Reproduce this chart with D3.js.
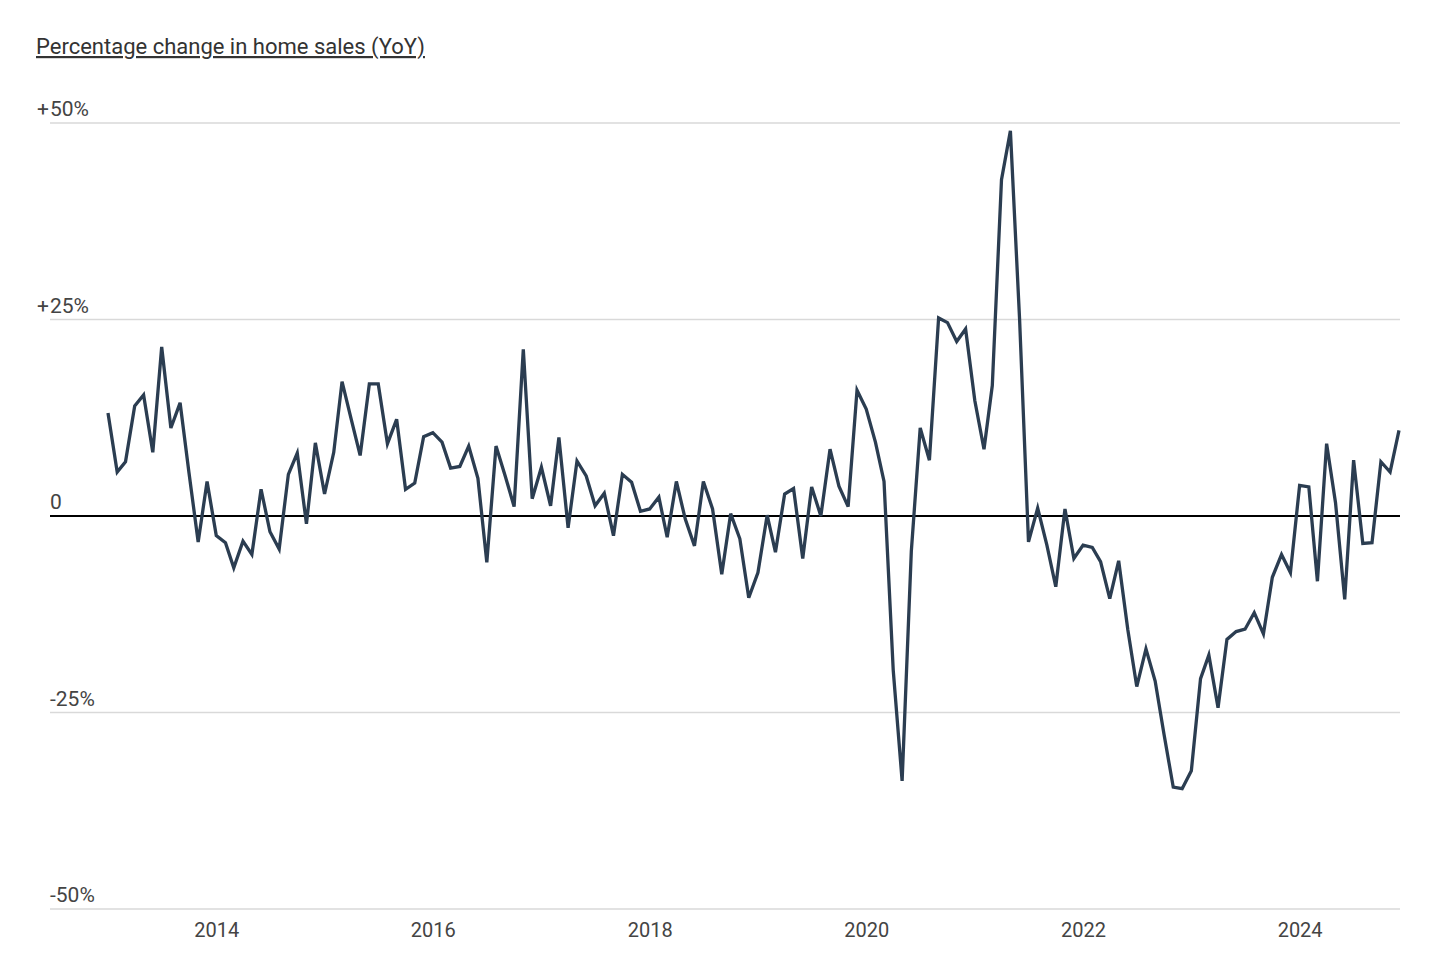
<!DOCTYPE html>
<html>
<head>
<meta charset="utf-8">
<script src="https://cdn.jsdelivr.net/npm/d3@7"></script>
<style>
  body { margin: 0; background: #fff; }
  text { font-family: Roboto, "Noto Sans", sans-serif; }
</style>
</head>
<body>
<div class="chart"></div>
<script>
// YoY percentage change in home sales, monthly Jan 2013 - Dec 2024

var startMonth = "2013-01";
var endMonth = "2024-12";

var values = [
  // 2013
  13.1, 5.6, 6.9, 14.0, 15.4, 8.1, 21.5, 11.2, 14.4, 5.5, -3.3, 4.4,
  // 2014
  -2.5, -3.4, -6.6, -3.2, -4.9, 3.4, -2.0, -4.2, 5.3, 8.0, -1.0, 9.3,
  // 2015
  2.8, 8.1, 17.1, 12.3, 7.7, 16.8, 16.8, 9.2, 12.3, 3.4, 4.2, 10.1,
  // 2016
  10.6, 9.4, 6.1, 6.3, 8.9, 4.8, -5.9, 8.9, 5.1, 1.2, 21.2, 2.2,
  // 2017
  6.2, 1.3, 10.0, -1.5, 7.0, 5.1, 1.3, 2.9, -2.5, 5.3, 4.3, 0.6,
  // 2018
  0.9, 2.4, -2.7, 4.4, -0.4, -3.8, 4.4, 0.9, -7.4, 0.3, -2.9, -10.4,
  // 2019
  -7.2, 0.1, -4.6, 2.8, 3.5, -5.4, 3.7, 0.0, 8.5, 3.8, 1.2, 16.0,
  // 2020
  13.6, 9.4, 4.4, -19.6, -33.7, -4.5, 11.2, 7.1, 25.2, 24.6, 22.2, 23.8,
  // 2021
  14.7, 8.5, 16.6, 42.8, 49.0, 25.0, -3.3, 1.0, -3.7, -9.0, 0.9, -5.4,
  // 2022
  -3.7, -4.0, -5.8, -10.5, -5.7, -14.5, -21.7, -16.9, -21.0, -27.8, -34.5, -34.7,
  // 2023
  -32.4, -20.7, -17.7, -24.4, -15.7, -14.7, -14.4, -12.3, -15.0, -7.8, -4.9, -7.2,
  // 2024
  3.9, 3.7, -8.3, 9.2, 1.7, -10.6, 7.1, -3.5, -3.4, 6.9, 5.6, 10.9
];

var yTicks = [50, 25, 0, -25, -50];
var yTickLabels = ["+50%", "+25%", "0", "-25%", "-50%"];
var xTickYears = [2014, 2016, 2018, 2020, 2022, 2024];

var titleText = "Percentage change in home sales (YoY)";

var svgWidth = 1450;
var svgHeight = 975;

var svg = d3.select(".chart")
  .append("svg")
  .attr("width", svgWidth)
  .attr("height", svgHeight);

var parseMonth = d3.timeParse("%Y-%m");
var months = d3.timeMonth.range(parseMonth(startMonth), d3.timeMonth.offset(parseMonth(endMonth), 1));

var data = months.map(function(m, i) {
  return { date: m, value: values[i] };
});

var xScale = d3.scaleTime()
  .domain([months[0], months[months.length - 1]])
  .range([108, 1399]);

var yScale = d3.scaleLinear()
  .domain([-50, 50])
  .range([909, 123]);

// title
svg.append("text")
  .attr("x", 36)
  .attr("y", 54)
  .attr("fill", "#333")
  .attr("font-size", "22px")
  .attr("text-decoration", "underline")
  .text(titleText);

// gridlines
svg.append("g")
  .selectAll("line")
  .data(yTicks.filter(d => d !== 0))
  .enter()
  .append("line")
  .attr("x1", 50)
  .attr("x2", 1400)
  .attr("y1", d => yScale(d))
  .attr("y2", d => yScale(d))
  .attr("stroke", "#d9d9d9")
  .attr("stroke-width", 1.5);

// y labels, the "+" hangs left of the gridline start
var yLabels = svg.append("g");
yTicks.forEach(function(t, i) {
  var lab = yTickLabels[i];
  var body = lab.charAt(0) === "+" ? lab.slice(1) : lab;
  yLabels.append("text")
    .attr("x", 50)
    .attr("y", yScale(t) - 7)
    .attr("fill", "#444")
    .attr("font-size", "21px")
    .text(body);
  if (lab.charAt(0) === "+") {
    yLabels.append("text")
      .attr("x", 49)
      .attr("y", yScale(t) - 7)
      .attr("text-anchor", "end")
      .attr("fill", "#444")
      .attr("font-size", "21px")
      .text("+");
  }
});

// zero line
svg.append("line")
  .attr("x1", 50)
  .attr("x2", 1400)
  .attr("y1", yScale(0))
  .attr("y2", yScale(0))
  .attr("stroke", "#000")
  .attr("stroke-width", 1.8);

// x axis labels
var xAxis = d3.axisBottom(xScale)
  .tickValues(xTickYears.map(y => new Date(y, 0, 1)))
  .tickFormat(d3.timeFormat("%Y"))
  .tickSize(0)
  .tickPadding(0);

var xAxisG = svg.append("g")
  .attr("transform", "translate(0, 923)")
  .call(xAxis);
xAxisG.select(".domain").remove();
xAxisG.selectAll("text")
  .attr("font-family", "Roboto, sans-serif")
  .attr("font-size", "20px")
  .attr("fill", "#444");

// line
var line = d3.line()
  .x(d => xScale(d.date))
  .y(d => yScale(d.value));

svg.append("path")
  .datum(data)
  .attr("d", line)
  .attr("fill", "none")
  .attr("stroke", "#2b3d51")
  .attr("stroke-width", 3.3)
  .attr("stroke-linejoin", "miter");
</script>
</body>
</html>
